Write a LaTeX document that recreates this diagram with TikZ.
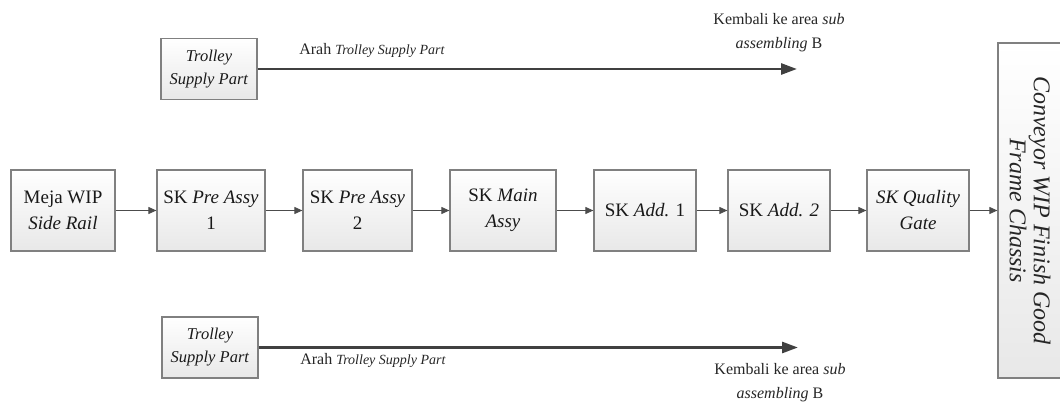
\documentclass[tikz,border=0pt]{standalone}
\usepackage{fontspec}
\setmainfont{Liberation Serif}
\usetikzlibrary{arrows.meta}
\begin{document}
\begin{tikzpicture}[x=1pt,y=-1pt,
  stage/.style={draw=black!50, line width=1.2pt, top color=white, bottom color=black!9,
    inner sep=0pt, align=center, text=black!90, font=\fontsize{19}{26}\selectfont},
  trolleybox/.style={stage, minimum width=96pt, minimum height=61pt, font=\fontsize{16.5}{23}\selectfont},
  flow/.style={draw=black!70, line width=0.9pt, -{Triangle[length=8pt,width=7pt]}},
  supply/.style={draw=black!75, line width=2.8pt, -{Triangle[length=16pt,width=11pt]}},
  note/.style={align=center, text=black!85, font=\fontsize{16}{24}\selectfont}]
\path[use as bounding box] (0,0) rectangle (1060,403);
\clip (0,0) rectangle (1060,403);

% trolley supply lines
\node[trolleybox] (ttop) at (209,69) {\textit{Trolley}\\\textit{Supply Part}};
\coordinate (ttopend) at (797,69);
\draw[supply] (ttop.east) -- (ttopend);
\node[note] (tarah) at (372,50) {Arah {\fontsize{14}{16}\selectfont\textit{Trolley Supply Part}}};
\node[note] (tback) at (779,33) {Kembali ke area \textit{sub}\\\textit{assembling} B};

\node[trolleybox] (tbot) at (210,347.5) {\textit{Trolley}\\\textit{Supply Part}};
\coordinate (tbotend) at (798,347.5);
\draw[supply] (tbot.east) -- (tbotend);
\node[note] (barah) at (373,360) {Arah {\fontsize{14}{16}\selectfont\textit{Trolley Supply Part}}};
\node[note] (bback) at (780,383) {Kembali ke area \textit{sub}\\\textit{assembling} B};

% main production line
\node[stage, minimum width=104pt, minimum height=81pt] (meja) at (63,210.5) {Meja WIP\\\textit{Side Rail}};
\node[stage, minimum width=108pt, minimum height=81pt] (pre1) at (211,210.5) {SK \textit{Pre Assy}\\1};
\node[stage, minimum width=109pt, minimum height=81pt] (pre2) at (357.5,210.5) {SK \textit{Pre Assy}\\2};
\node[stage, minimum width=106pt, minimum height=81pt] (mainassy) at (503,210.5) {SK \textit{Main}\\\textit{Assy}};
\node[stage, minimum width=102pt, minimum height=81pt] (add1) at (645,210.5) {SK \textit{Add.} 1};
\node[stage, minimum width=102pt, minimum height=81pt] (add2) at (779,210.5) {SK \textit{Add. 2}};
\node[stage, minimum width=102pt, minimum height=81pt] (qgate) at (918,210.5) {\textit{SK Quality}\\\textit{Gate}};
\node[stage, minimum width=68pt, minimum height=335pt] (conv) at (1032,210.5) {};
\node[rotate=-90, align=center, text=black!85, font=\fontsize{24}{24}\selectfont\itshape] (convtext) at (1030,210.5)
  {Conveyor WIP Finish Good\\Frame Chassis};

\draw[flow] (meja) -- (pre1);
\draw[flow] (pre1) -- (pre2);
\draw[flow] (pre2) -- (mainassy);
\draw[flow] (mainassy) -- (add1);
\draw[flow] (add1) -- (add2);
\draw[flow] (add2) -- (qgate);
\draw[flow] (qgate) -- (conv);
\end{tikzpicture}
\end{document}
